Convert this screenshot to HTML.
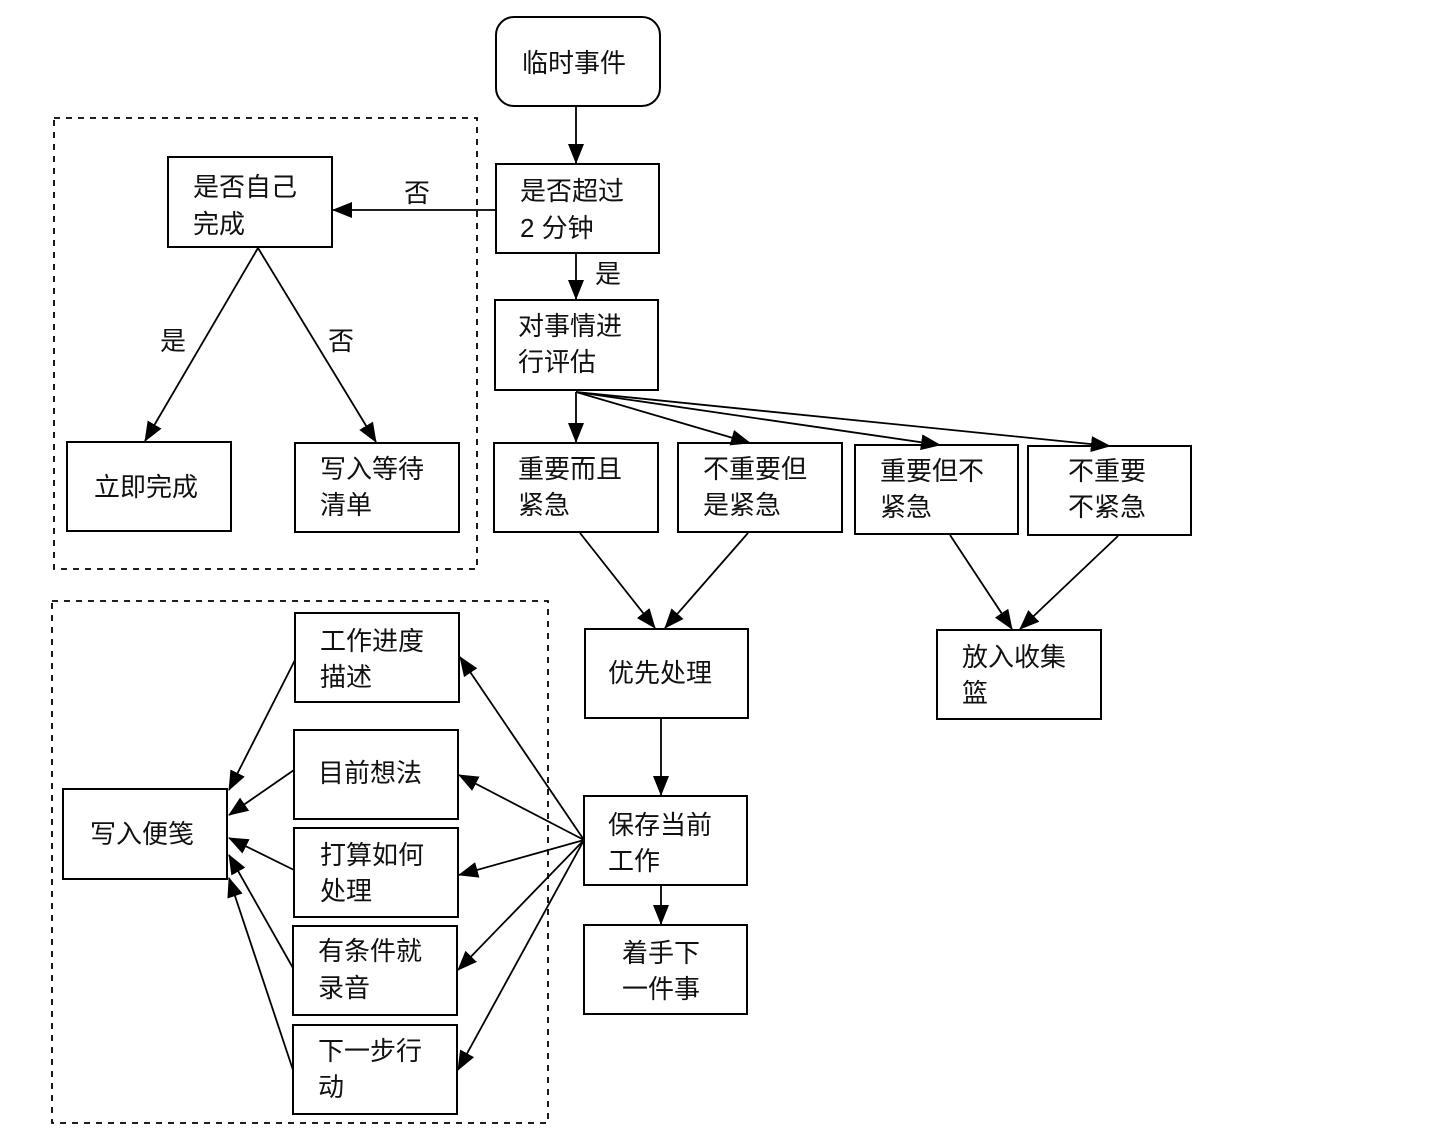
<!DOCTYPE html>
<html><head><meta charset="utf-8"><style>
html,body{margin:0;padding:0;background:#fff;}
svg text{font-family:"Liberation Sans","Noto Sans CJK SC",sans-serif;font-size:26px;fill:#111;}
</style></head><body>
<svg width="1432" height="1142" viewBox="0 0 1432 1142" xmlns="http://www.w3.org/2000/svg">
<defs><marker id="a" markerWidth="10" markerHeight="10" refX="9" refY="5" orient="auto" markerUnits="userSpaceOnUse" viewBox="0 0 10 10"><path d="M0,0 L10,5 L0,10 z" fill="#000"/></marker>
<marker id="b" markerWidth="20" markerHeight="16" refX="19" refY="8" orient="auto" markerUnits="userSpaceOnUse" viewBox="0 0 20 16"><path d="M0,0 L20,8 L0,16 z" fill="#000"/></marker></defs>
<g fill="none" stroke="#000" stroke-width="1.8" stroke-dasharray="6,6">
<rect x="54" y="118" width="423" height="451"/>
<rect x="52" y="601" width="496" height="522"/>
</g>
<g fill="#fff" stroke="#000" stroke-width="2">
<rect x="496" y="17" width="164" height="89" rx="18"/>
<rect x="496" y="164" width="163" height="89"/>
<rect x="495" y="300" width="163" height="90"/>
<rect x="494" y="443" width="164" height="89"/>
<rect x="678" y="443" width="164" height="89"/>
<rect x="855" y="445" width="163" height="89"/>
<rect x="1028" y="446" width="163" height="89"/>
<rect x="585" y="629" width="163" height="89"/>
<rect x="937" y="630" width="164" height="89"/>
<rect x="584" y="796" width="163" height="89"/>
<rect x="584" y="925" width="163" height="89"/>
<rect x="168" y="157" width="164" height="90"/>
<rect x="67" y="442" width="164" height="89"/>
<rect x="295" y="443" width="164" height="89"/>
<rect x="63" y="789" width="164" height="90"/>
<rect x="295" y="613" width="164" height="89"/>
<rect x="294" y="730" width="164" height="89"/>
<rect x="294" y="828" width="164" height="89"/>
<rect x="293" y="926" width="164" height="89"/>
<rect x="293" y="1025" width="164" height="89"/>
</g>
<g stroke="#000" stroke-width="1.8" marker-end="url(#b)">
<line x1="576" y1="106" x2="576" y2="163"/>
<line x1="496" y1="210" x2="333" y2="210"/>
<line x1="576" y1="253" x2="576" y2="299"/>
<line x1="576" y1="392" x2="576" y2="442"/>
<line x1="576" y1="392" x2="750" y2="443"/>
<line x1="576" y1="392" x2="940" y2="445"/>
<line x1="576" y1="392" x2="1110" y2="446"/>
<line x1="258" y1="248" x2="145" y2="441"/>
<line x1="258" y1="248" x2="376" y2="442"/>
<line x1="580" y1="533" x2="655" y2="628"/>
<line x1="748" y1="533" x2="665" y2="628"/>
<line x1="950" y1="535" x2="1012" y2="629"/>
<line x1="1118" y1="536" x2="1020" y2="629"/>
<line x1="661" y1="718" x2="661" y2="795"/>
<line x1="661" y1="885" x2="661" y2="924"/>
<line x1="584" y1="840" x2="460" y2="657"/>
<line x1="584" y1="840" x2="459" y2="775"/>
<line x1="584" y1="840" x2="459" y2="875"/>
<line x1="584" y1="840" x2="458" y2="970"/>
<line x1="584" y1="840" x2="458" y2="1070"/>
<line x1="295" y1="660" x2="229" y2="790"/>
<line x1="294" y1="770" x2="229" y2="815"/>
<line x1="294" y1="870" x2="229" y2="838"/>
<line x1="293" y1="968" x2="229" y2="855"/>
<line x1="293" y1="1070" x2="229" y2="878"/>
</g>
<text x="522" y="72">临时事件</text>
<text x="520" y="200">是否超过</text><text x="520" y="237">2 分钟</text>
<text x="518" y="335">对事情进</text><text x="518" y="371">行评估</text>
<text x="518" y="478">重要而且</text><text x="518" y="514">紧急</text>
<text x="703" y="478">不重要但</text><text x="703" y="514">是紧急</text>
<text x="880" y="480">重要但不</text><text x="880" y="516">紧急</text>
<text x="1068" y="480">不重要</text><text x="1068" y="516">不紧急</text>
<text x="608" y="682">优先处理</text>
<text x="962" y="666">放入收集</text><text x="962" y="702">篮</text>
<text x="608" y="834">保存当前</text><text x="608" y="870">工作</text>
<text x="622" y="962">着手下</text><text x="622" y="998">一件事</text>
<text x="193" y="196">是否自己</text><text x="193" y="233">完成</text>
<text x="94" y="496">立即完成</text>
<text x="320" y="478">写入等待</text><text x="320" y="514">清单</text>
<text x="90" y="843">写入便笺</text>
<text x="320" y="650">工作进度</text><text x="320" y="686">描述</text>
<text x="318" y="782">目前想法</text>
<text x="320" y="864">打算如何</text><text x="320" y="900">处理</text>
<text x="318" y="960">有条件就</text><text x="318" y="997">录音</text>
<text x="318" y="1060">下一步行</text><text x="318" y="1096">动</text>
<text x="404" y="202">否</text>
<text x="595" y="283">是</text>
<text x="160" y="350">是</text>
<text x="328" y="350">否</text>
</svg>
</body></html>
